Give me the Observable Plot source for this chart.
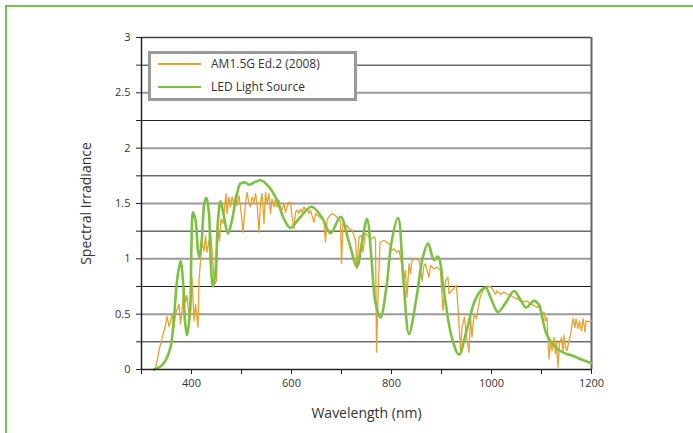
<!DOCTYPE html>
<html><head><meta charset="utf-8">
<script src="https://cdn.jsdelivr.net/npm/d3@7"></script>
<script src="https://cdn.jsdelivr.net/npm/@observablehq/plot@0.6"></script>
<style>
body{margin:0;background:#fff;}
#wrap{position:relative;width:693px;height:433px;overflow:hidden;font-family:"Open Sans",Lato,sans-serif;color:#333;}
#frameline{position:absolute;left:5px;top:5px;width:720px;height:460px;border-top:2px solid #72c34f;border-left:2px solid #72c34f;}
#chart{position:absolute;left:0;top:0;}
#legend{position:absolute;left:148px;top:51px;width:203px;height:44px;border:3px solid #9a9a9a;background:#fff;}
.sw{position:absolute;left:7px;width:43px;height:0;border-top:2.5px solid;}
.lt{position:absolute;left:60px;font-size:12px;line-height:14px;color:#333;white-space:nowrap;}
</style></head>
<body>
<div id="wrap">
  <div id="frameline"></div>
  <div id="chart"></div>
  <div id="legend"></div>
</div>
<script>
// ---- data ----
const seriesNames = ["AM1.5G Ed.2 (2008)", "LED Light Source"];
const seriesColors = ["#E9A12F", "#7DC142"];

const amWavelength = [328,338,348,351,355,358,361,365,368,371,375,378,381,385,388,391,395,398,401,405,408,413,415,418,421,425,428,431,435,438,441,446,450,453,456,459,463,466,469,471,475,478,481,485,488,491,495,498,501,503,508,511,515,518,521,525,528,531,535,538,541,545,548,551,555,558,561,565,568,571,575,578,581,585,588,591,595,598,601,605,608,611,615,618,621,625,628,631,635,638,641,645,648,655,661,665,668,671,675,681,688,695,698,700,703,708,711,715,721,728,731,735,740,743,748,755,761,765,768,770,773,777,785,791,798,801,805,811,815,818,821,825,828,831,835,838,841,848,855,858,861,865,868,871,875,878,885,891,898,903,908,913,915,921,930,935,938,941,946,950,955,958,961,965,970,973,978,985,991,998,1001,1008,1011,1018,1025,1031,1038,1045,1051,1058,1065,1071,1078,1085,1091,1098,1101,1105,1108,1111,1115,1118,1121,1125,1128,1130,1133,1136,1140,1143,1145,1148,1151,1155,1158,1163,1167,1169,1173,1176,1180,1183,1187,1189,1193,1200];
const amIrradiance = [0.01,0.23,0.40,0.48,0.39,0.43,0.50,0.38,0.50,0.54,0.59,0.41,0.53,0.74,0.61,0.67,0.47,0.53,0.83,0.44,0.59,0.38,0.80,0.985,1.15,1.07,1.21,1.06,1.16,1.24,1.09,0.77,0.80,1.29,1.16,1.36,1.32,1.45,1.59,1.41,1.56,1.47,1.56,1.50,1.57,1.48,1.57,1.47,1.35,1.24,1.50,1.60,1.50,1.47,1.56,1.51,1.59,1.50,1.24,1.51,1.59,1.32,1.60,1.50,1.59,1.41,1.54,1.47,1.54,1.47,1.53,1.45,1.44,1.50,1.42,1.47,1.51,1.51,1.39,1.27,1.42,1.44,1.41,1.45,1.42,1.47,1.44,1.45,1.41,1.44,1.39,1.33,1.41,1.38,1.36,1.35,1.15,1.35,1.38,1.41,1.39,1.36,1.33,0.955,1.32,1.29,1.30,1.27,1.26,1.17,0.91,1.20,1.21,1.06,1.23,1.20,1.18,1.20,1.18,0.157,0.65,1.15,1.166,1.15,1.12,1.075,1.09,1.06,1.075,1.016,0.925,0.82,0.895,0.654,0.955,0.865,0.985,1.0,0.985,0.925,0.80,0.94,0.955,0.895,0.835,0.94,0.91,0.925,0.895,0.533,0.80,0.835,0.684,0.714,0.759,0.413,0.172,0.383,0.473,0.293,0.157,0.473,0.293,0.503,0.458,0.548,0.669,0.729,0.744,0.75,0.73,0.68,0.71,0.68,0.70,0.68,0.67,0.65,0.64,0.62,0.61,0.62,0.59,0.58,0.56,0.58,0.49,0.52,0.44,0.47,0.096,0.26,0.17,0.29,0.14,0.26,0.02,0.23,0.29,0.17,0.31,0.20,0.17,0.26,0.31,0.46,0.38,0.46,0.37,0.44,0.35,0.46,0.34,0.44,0.43,0.44];

const ledWavelength = [325,338,348,358,365,371,378,383,387,391,397,400,403,408,413,416,421,426,430,435,438,443,448,453,458,465,473,481,491,498,508,515,525,538,555,571,585,598,618,640,660,678,698,715,731,741,751,760,768,778,790,800,813,824,835,850,862,873,885,893,905,920,935,950,965,978,988,1000,1013,1028,1045,1058,1069,1085,1094,1105,1111,1128,1145,1161,1180,1200];
const ledIrradiance = [0.0,0.027,0.08,0.20,0.47,0.80,0.98,0.80,0.44,0.31,0.53,1.13,1.42,1.35,1.07,1.01,1.20,1.51,1.55,1.41,1.01,0.75,0.89,1.35,1.52,1.38,1.23,1.35,1.59,1.68,1.69,1.67,1.69,1.71,1.65,1.53,1.36,1.28,1.38,1.47,1.38,1.23,1.38,1.15,0.93,1.15,1.36,1.0,0.6,0.47,0.75,1.15,1.37,0.8,0.32,0.65,1.0,1.14,0.99,1.02,0.7,0.3,0.135,0.35,0.6,0.71,0.74,0.63,0.52,0.6,0.71,0.63,0.56,0.62,0.59,0.40,0.31,0.20,0.15,0.126,0.09,0.057];

const xTicks = [300,400,500,600,700,800,900,1000,1100,1200];
const xLabelTicks = [400,600,800,1000,1200];
const yTicks = [0,0.25,0.5,0.75,1,1.25,1.5,1.75,2,2.25,2.5,2.75,3];
const yLabelTicks = [0,0.5,1,1.5,2,2.5,3];

// ---- tables ----
const am = amWavelength.map((w,i)=>({w, v: amIrradiance[i]}));
const led = ledWavelength.map((w,i)=>({w, v: ledIrradiance[i]}));
const majorGrid = yLabelTicks.filter(v => v > 0 && v < 3);
const minorGrid = yTicks.filter(v => !yLabelTicks.includes(v));

const chart = Plot.plot({
  width: 693, height: 433,
  marginLeft: 141, marginRight: 102, marginTop: 37, marginBottom: 64,
  x: {domain: [300, 1200]},
  y: {domain: [0, 3]},
  style: {fontFamily: "'Open Sans', Lato, sans-serif", fontSize: "11px", color: "#333", background: "transparent"},
  marks: [
    Plot.ruleY(minorGrid, {stroke: "#222", strokeWidth: 1}),
    Plot.ruleY(majorGrid, {stroke: "#9a9a9a", strokeWidth: 2}),
    Plot.ruleY([3], {stroke: "#444", strokeWidth: 1.5}),
    Plot.ruleX([1200], {stroke: "#666", strokeWidth: 2}),
    Plot.line(am, {x: "w", y: "v", stroke: seriesColors[0], strokeWidth: 1.3}),
    Plot.line(led, {x: "w", y: "v", stroke: seriesColors[1], strokeWidth: 2.6, curve: "catmull-rom"}),
    Plot.ruleX([300], {stroke: "#222", strokeWidth: 1.5}),
    Plot.ruleY([0], {stroke: "#222", strokeWidth: 1.5}),
    Plot.axisY({ticks: yTicks, tickSize: 5, tickPadding: 6, tickFormat: d => yLabelTicks.includes(d) ? String(d) : "", label: null, stroke: "#222"}),
    Plot.axisX({ticks: xTicks, tickSize: 5, tickPadding: 5, tickFormat: d => xLabelTicks.includes(d) ? String(d) : "", label: null, stroke: "#222"}),
    Plot.text(["Wavelength (nm)"], {frameAnchor: "bottom", lineAnchor: "middle", dy: 44, fontSize: 14, fill: "#333"}),
    Plot.text(["Spectral Irradiance"], {frameAnchor: "left", textAnchor: "middle", lineAnchor: "middle", dx: -55, rotate: -90, fontSize: 14, fill: "#333"})
  ]
});
document.getElementById("chart").appendChild(chart);

// ---- legend ----
const legend = document.getElementById("legend");
seriesNames.forEach((name, i) => {
  const top = 10 + i * 23;
  const sw = document.createElement("div");
  sw.className = "sw";
  sw.style.top = (top - 1) + "px";
  sw.style.borderTopColor = seriesColors[i];
  legend.appendChild(sw);
  const t = document.createElement("div");
  t.className = "lt";
  t.style.top = (top - 7) + "px";
  t.textContent = name;
  legend.appendChild(t);
});
</script>
</body></html>
